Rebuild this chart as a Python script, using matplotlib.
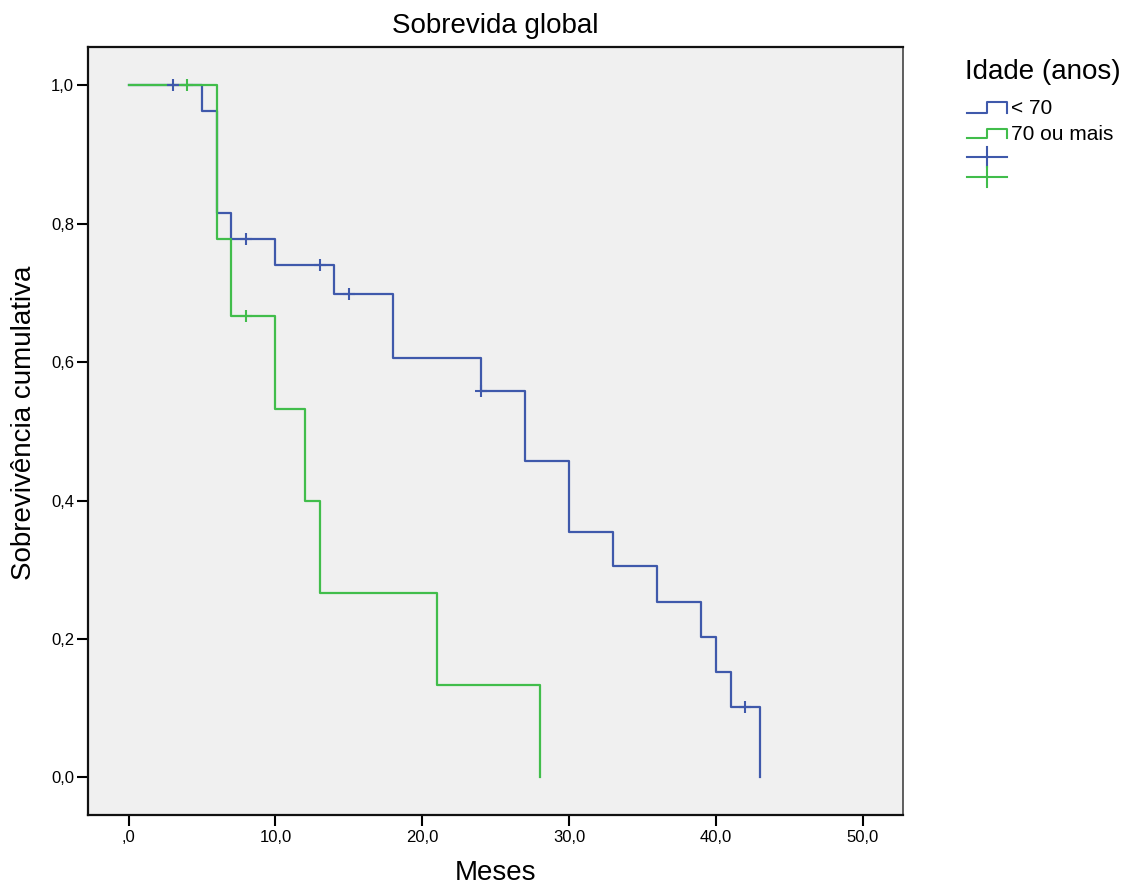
import matplotlib
matplotlib.use('Agg')
import matplotlib.pyplot as plt
from matplotlib.lines import Line2D
import numpy as np

plt.rcParams['font.family'] = ['Liberation Sans', 'DejaVu Sans']

# Kaplan-Meier values
tempo_jovem = [0, 5, 6, 7, 10, 14, 18, 24, 27, 30, 33, 36, 39, 40, 41, 43]
surv_jovem = [1.0, 0.963, 0.815, 0.778, 0.741, 0.699, 0.606, 0.558,
              0.457, 0.355, 0.305, 0.254, 0.203, 0.152, 0.102, 0.0]
cens_jovem = [3, 8, 13, 15, 24, 42]

tempo_idoso = [0, 6, 7, 10, 12, 13, 21, 28]
surv_idoso = [1.0, 0.778, 0.667, 0.533, 0.400, 0.267, 0.133, 0.0]
cens_idoso = [4, 8]

grupos = ['< 70', '70 ou mais']
xticks = [0, 10, 20, 30, 40, 50]
xticklabels = [',0', '10,0', '20,0', '30,0', '40,0', '50,0']
yticks = [0.0, 0.2, 0.4, 0.6, 0.8, 1.0]
yticklabels = ['0,0', '0,2', '0,4', '0,6', '0,8', '1,0']

azul = '#3f59ab'
verde = '#41bd4b'


def surv_at(tempos, survs, t):
    i = np.searchsorted(tempos, t, side='right') - 1
    return np.asarray(survs)[i]


W, H = 1128, 888
fig = plt.figure(figsize=(W / 100, H / 100), dpi=100)
ax = fig.add_axes([88 / W, 1 - 815 / H, (903 - 88) / W, (815 - 47) / H])
ax.set_facecolor('#f0f0f0')

ax.step(tempo_jovem, surv_jovem, where='post', color=azul, lw=1.6)
ax.step(tempo_idoso, surv_idoso, where='post', color=verde, lw=1.6)
ax.plot(cens_jovem, surv_at(tempo_jovem, surv_jovem, cens_jovem), '+',
        color=azul, ms=9, mew=1.5)
ax.plot(cens_idoso, surv_at(tempo_idoso, surv_idoso, cens_idoso), '+',
        color=verde, ms=9, mew=1.5)

ax.set_xlim(-2.77, 52.74)
ax.set_ylim(-0.0545, 1.0555)
ax.set_xticks(xticks)
ax.set_xticklabels(xticklabels)
ax.set_yticks(yticks)
ax.set_yticklabels(yticklabels)
ax.tick_params(direction='out', length=8, width=1.5, labelsize=12, pad=2)
ax.tick_params(axis='x', pad=3)

for s in ['left', 'bottom', 'top']:
    ax.spines[s].set_linewidth(1.6)
    ax.spines[s].set_color('#111111')
ax.spines['right'].set_linewidth(1.2)
ax.spines['right'].set_color('#444444')

ax.set_title('Sobrevida global', fontsize=20, pad=10)
ax.set_xlabel('Meses', fontsize=20, va='center')
ax.xaxis.set_label_coords(0.5, (815 - 873) / 768)
ax.set_ylabel('Sobrevivência cumulativa', fontsize=20, va='center')
ax.yaxis.set_label_coords((24 - 88) / 815, (815 - 423) / 768)


# legend drawn by hand (SPSS style icons)
def px(x, y):
    return x / W, 1 - y / H


def fig_line(xs, ys, color):
    pts = [px(x, y) for x, y in zip(xs, ys)]
    fig.add_artist(Line2D([p[0] for p in pts], [p[1] for p in pts],
                          color=color, lw=1.5, transform=fig.transFigure))


fig.text(*px(965, 72), 'Idade (anos)', fontsize=20, va='center', ha='left')
fig_line([967, 987, 987, 1007, 1007], [113, 113, 102, 102, 113], azul)
fig_line([967, 987, 987, 1007, 1007], [138, 138, 129, 129, 138], verde)
fig.text(*px(1011, 108), grupos[0], fontsize=15, va='center', ha='left')
fig.text(*px(1011, 135), grupos[1], fontsize=15, va='center', ha='left')
fig_line([967, 1007], [157, 157], azul)
fig_line([987, 987], [147, 167], azul)
fig_line([967, 1007], [177, 177], verde)
fig_line([987, 987], [167, 187], verde)

fig.savefig('out.png', dpi=100)
